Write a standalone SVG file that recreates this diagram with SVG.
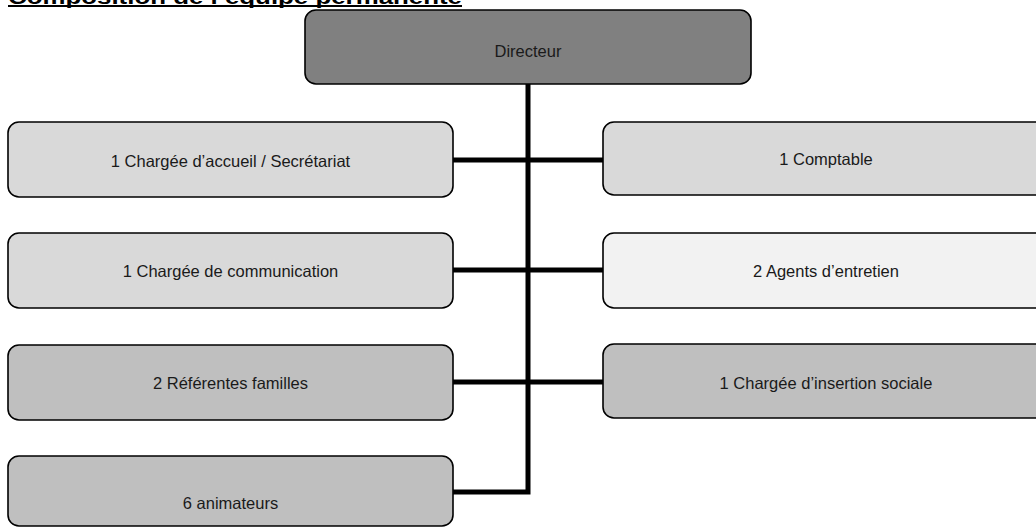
<svg xmlns="http://www.w3.org/2000/svg" width="1036" height="527" viewBox="0 0 1036 527">
<style>
.box{stroke:#000;stroke-width:1.6}
.lbl{font-family:"Liberation Sans",Arial,sans-serif;font-size:16.5px;fill:#1a1a1a;text-anchor:middle}
.title{font-family:"Liberation Sans",Arial,sans-serif;font-size:20px;font-weight:bold;fill:#000}
.conn{stroke:#000;stroke-width:5;fill:none;stroke-linejoin:miter}
</style>
<rect width="1036" height="527" fill="#fff"/>
<g id="title">
<text class="title" x="8" y="4" textLength="454" lengthAdjust="spacingAndGlyphs">Composition de l’équipe permanente</text>
<rect x="8" y="5" width="454" height="2" fill="#000"/>
</g>
<g id="connectors">
<path class="conn" d="M528,84 V492 H453"/>
<line class="conn" x1="453" y1="160" x2="603" y2="160"/>
<line class="conn" x1="453" y1="270" x2="603" y2="270"/>
<line class="conn" x1="453" y1="382" x2="603" y2="382"/>
</g>
<g id="directeur">
<rect class="box" x="305" y="10" width="446" height="74" rx="11" fill="#808080"/>
<text class="lbl" x="528" y="57">Directeur</text>
</g>
<g id="accueil">
<rect class="box" x="8" y="122" width="445" height="75" rx="11" fill="#d9d9d9"/>
<text class="lbl" x="230.5" y="167">1 Chargée d’accueil / Secrétariat</text>
</g>
<g id="comptable">
<rect class="box" x="603" y="122" width="446" height="73" rx="11" fill="#d9d9d9"/>
<text class="lbl" x="826" y="165">1 Comptable</text>
</g>
<g id="communication">
<rect class="box" x="8" y="233" width="445" height="75" rx="11" fill="#d9d9d9"/>
<text class="lbl" x="230.5" y="277">1 Chargée de communication</text>
</g>
<g id="entretien">
<rect class="box" x="603" y="233" width="446" height="75" rx="11" fill="#f2f2f2"/>
<text class="lbl" x="826" y="277">2 Agents d’entretien</text>
</g>
<g id="referentes">
<rect class="box" x="8" y="345" width="445" height="75" rx="11" fill="#bfbfbf"/>
<text class="lbl" x="230.5" y="389">2 Référentes familles</text>
</g>
<g id="insertion">
<rect class="box" x="603" y="344" width="446" height="74" rx="11" fill="#bfbfbf"/>
<text class="lbl" x="826" y="389">1 Chargée d’insertion sociale</text>
</g>
<g id="animateurs">
<rect class="box" x="8" y="456" width="445" height="70" rx="11" fill="#bfbfbf"/>
<text class="lbl" x="230.5" y="509">6 animateurs</text>
</g>
</svg>
